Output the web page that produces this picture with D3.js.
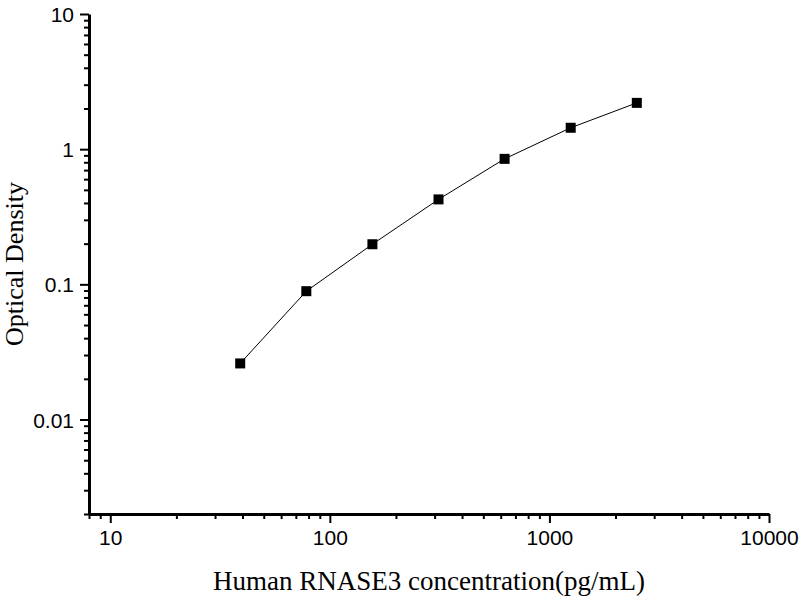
<!DOCTYPE html>
<html>
<head>
<meta charset="utf-8">
<script src="https://cdn.jsdelivr.net/npm/d3@7"></script>
<style>
  body { margin: 0; background: #fff; }
  svg { display: block; }
</style>
</head>
<body>
<div id="chart"></div>
<script>
// standard curve data
const concentration = [39.06, 78.13, 156.25, 312.5, 625, 1250, 2500];
const opticalDensity = [0.026, 0.089, 0.198, 0.425, 0.848, 1.44, 2.2];
const xTickValues = [10, 100, 1000, 10000];
const yTickValues = [0.01, 0.1, 1, 10];
const xTitle = "Human RNASE3 concentration(pg/mL)";
const yTitle = "Optical Density";

const W = 800, H = 600;
const margin = { top: 14, right: 31, bottom: 86, left: 89 };
const width = W - margin.left - margin.right,
  height = H - margin.top - margin.bottom;

const svg = d3.select("#chart").append("svg")
  .attr("width", W)
  .attr("height", H);

const g = svg.append("g")
  .attr("transform", "translate(" + margin.left + "," + margin.top + ")");

const x = d3.scaleLog().domain([8, 10000]).range([0, width]);
const y = d3.scaleLog().domain([0.002, 10]).range([height, 0]);

// minor ticks: every integer multiple inside each decade
function minorTicks(scale) {
  const [a, b] = scale.domain();
  return scale.ticks(40).filter(v => v >= a && v <= b && !isMajor(v));
}
function isMajor(v) {
  const l = Math.log10(v);
  return Math.abs(l - Math.round(l)) < 1e-9;
}
const fmt = v => String(+v.toPrecision(6));

// minor ticks first, then main axis over them
g.append("g")
  .attr("transform", "translate(0," + height + ")")
  .call(d3.axisBottom(x).tickValues(minorTicks(x)).tickSize(5).tickFormat(""))
  .call(a => a.select(".domain").remove())
  .call(a => a.selectAll("line").attr("stroke-width", 2));

g.append("g")
  .call(d3.axisLeft(y).tickValues(minorTicks(y)).tickSize(5).tickFormat(""))
  .call(a => a.select(".domain").remove())
  .call(a => a.selectAll("line").attr("stroke-width", 2));

const xAxis = g.append("g")
  .attr("transform", "translate(0," + height + ")")
  .call(d3.axisBottom(x).tickValues(xTickValues).tickSize(9).tickSizeOuter(0).tickPadding(7).tickFormat(fmt));

const yAxis = g.append("g")
  .call(d3.axisLeft(y).tickValues(yTickValues).tickSize(9).tickSizeOuter(0).tickPadding(6).tickFormat(fmt));

[xAxis, yAxis].forEach(a => {
  a.select(".domain").attr("stroke-width", 3);
  a.selectAll(".tick line").attr("stroke-width", 2);
  a.selectAll("text")
    .attr("font-family", "Liberation Sans, Arial, sans-serif")
    .attr("font-size", 21)
    .attr("fill", "#000");
});
yAxis.selectAll("text").attr("dy", "0.36em");

// curve
const pts = concentration.map((c, i) => [c, opticalDensity[i]]);
const line = d3.line()
  .x(d => x(d[0]))
  .y(d => y(d[1]));

g.append("path")
  .datum(pts)
  .attr("fill", "none")
  .attr("stroke", "#000")
  .attr("stroke-width", 1)
  .attr("d", line);

const sz = 10;
g.append("g").selectAll("rect")
  .data(pts)
  .join("rect")
  .attr("x", d => x(d[0]) - sz / 2)
  .attr("y", d => y(d[1]) - sz / 2)
  .attr("width", sz)
  .attr("height", sz)
  .attr("fill", "#000");

// axis titles
svg.append("text")
  .attr("x", 429)
  .attr("y", 590)
  .attr("text-anchor", "middle")
  .attr("font-family", "Liberation Serif, Times New Roman, serif")
  .attr("font-size", 27)
  .text(xTitle);

svg.append("text")
  .attr("transform", "translate(23,264) rotate(-90)")
  .attr("text-anchor", "middle")
  .attr("font-family", "Liberation Serif, Times New Roman, serif")
  .attr("font-size", 26)
  .text(yTitle);
</script>
</body>
</html>
